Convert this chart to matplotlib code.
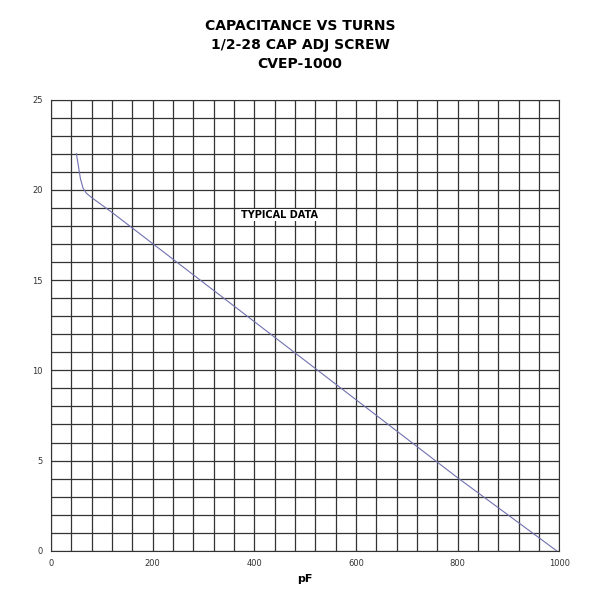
import matplotlib
matplotlib.use("Agg")
from matplotlib import pyplot as plt
import numpy as np

pf = [50, 54, 58, 63, 70, 81, 120, 400, 800, 995]
turns = [22.0, 21.3, 20.6, 20.1, 19.8, 19.55, 18.75, 12.7, 4.05, 0.0]

fig = plt.figure(figsize=(6, 6), dpi=100)
ax = fig.add_axes([0.085, 0.082, 0.847, 0.752])

ax.plot(pf, turns, color="#7070b0", lw=0.8, zorder=3)

ax.set_xlim(0, 1000)
ax.set_ylim(0, 25)
ax.set_xticks(np.arange(0, 1001, 200))
ax.set_yticks(np.arange(0, 26, 5))
ax.set_xticks(np.arange(0, 1001, 40), minor=True)
ax.set_yticks(np.arange(0, 26, 1), minor=True)
ax.grid(which="both", color="#333333", lw=0.9)
ax.tick_params(which="both", length=0, labelsize=6, colors="#333333", pad=6)
for s in ax.spines.values():
    s.set_color("#333333")

ax.set_xlabel("pF", fontsize=8, fontweight="bold", labelpad=4)
ax.text(450, 18.6, "TYPICAL DATA", fontsize=7, fontweight="bold",
        ha="center", va="center", bbox=dict(facecolor="white", edgecolor="none", pad=1))

fig.text(0.5, 0.925, "CAPACITANCE VS TURNS\n1/2-28 CAP ADJ SCREW\nCVEP-1000",
         ha="center", va="center", fontsize=10, fontweight="bold", linespacing=1.45)

fig.savefig("out.png", dpi=100)
